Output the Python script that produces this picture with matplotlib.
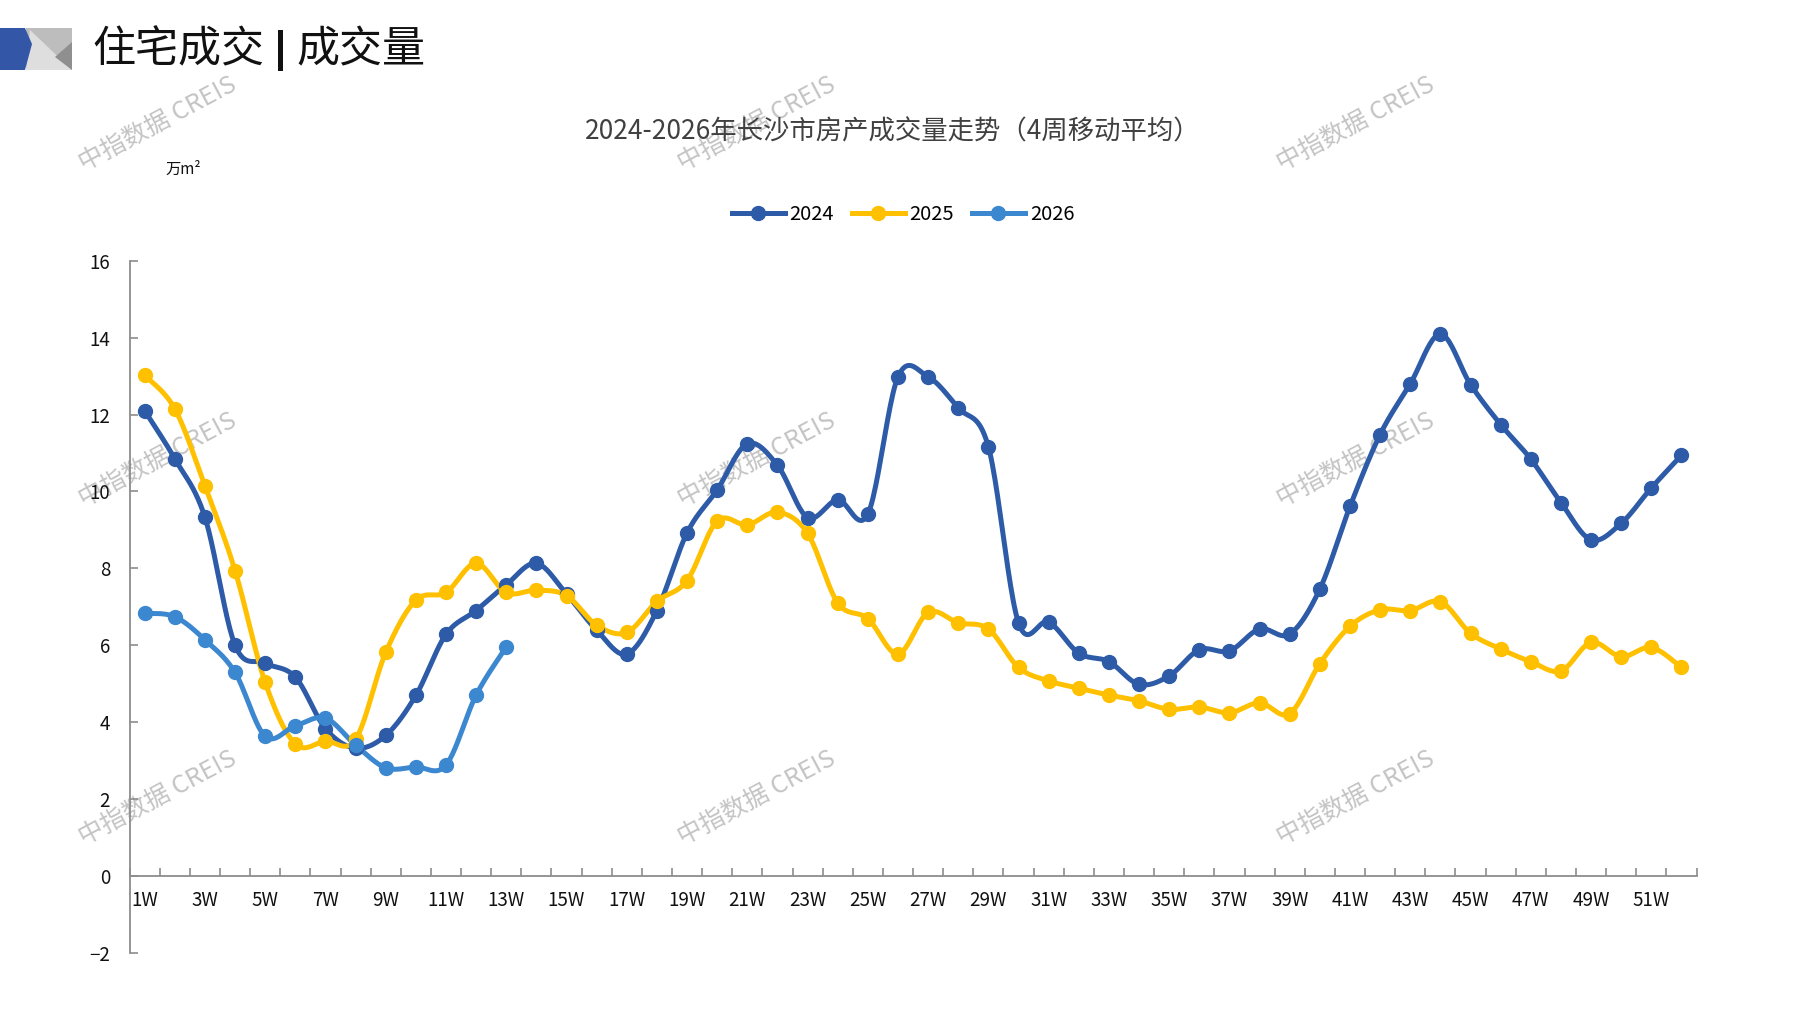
import numpy as np
import matplotlib
matplotlib.use("Agg")
import matplotlib.pyplot as plt
from matplotlib.patches import Polygon, Rectangle
from matplotlib.lines import Line2D

plt.rcParams['font.family'] = ['Noto Sans CJK SC', 'DejaVu Sans']

weeks_2024 = list(range(1, 53))
vals_2024 = [12.1, 10.85, 9.33, 6.0, 5.53, 5.17, 3.83, 3.32, 3.65, 4.69,
             6.28, 6.9, 7.57, 8.13, 7.33, 6.39, 5.77, 6.9, 8.92, 10.04,
             11.24, 10.68, 9.32, 9.78, 9.41, 12.98, 12.98, 12.17, 11.16, 6.58,
             6.6, 5.79, 5.57, 4.98, 5.2, 5.88, 5.85, 6.42, 6.29, 7.46,
             9.61, 11.48, 12.8, 14.09, 12.78, 11.74, 10.84, 9.71, 8.74, 9.17,
             10.09, 10.94]

weeks_2025 = list(range(1, 53))
vals_2025 = [13.02, 12.15, 10.15, 7.94, 5.03, 3.43, 3.5, 3.55, 5.81, 7.17,
             7.37, 8.13, 7.37, 7.43, 7.29, 6.52, 6.33, 7.14, 7.68, 9.23,
             9.13, 9.46, 8.91, 7.1, 6.69, 5.77, 6.85, 6.58, 6.42, 5.42,
             5.07, 4.88, 4.7, 4.55, 4.33, 4.39, 4.24, 4.5, 4.22, 5.52,
             6.49, 6.92, 6.9, 7.13, 6.31, 5.9, 5.57, 5.33, 6.07, 5.7,
             5.94, 5.42]

weeks_2026 = list(range(1, 14))
vals_2026 = [6.83, 6.74, 6.14, 5.29, 3.63, 3.9, 4.1, 3.4, 2.81, 2.83,
             2.88, 4.7, 5.95]

series = [("2024", weeks_2024, vals_2024, "#2D5BA8"),
          ("2025", weeks_2025, vals_2025, "#FFC000"),
          ("2026", weeks_2026, vals_2026, "#3C88D0")]

week_labels = [f"{w}W" if w % 2 == 1 else "" for w in range(1, 53)]


def smooth(x, y, n=24):
    # Catmull-Rom curve through the points (like Excel's smoothed line)
    x = np.asarray(x, float)
    y = np.asarray(y, float)
    px = np.concatenate([[x[0]], x, [x[-1]]])
    py = np.concatenate([[y[0]], y, [y[-1]]])
    xs, ys = [], []
    t = np.linspace(0, 1, n)
    for i in range(1, len(px) - 2):
        for p, out in ((px, xs), (py, ys)):
            p0, p1, p2, p3 = p[i - 1], p[i], p[i + 1], p[i + 2]
            out.extend(0.5 * ((2 * p1) + (-p0 + p2) * t
                              + (2 * p0 - 5 * p1 + 4 * p2 - p3) * t ** 2
                              + (-p0 + 3 * p1 - 3 * p2 + p3) * t ** 3))
    return np.array(xs), np.array(ys)


W, H = 1797, 1010
fig = plt.figure(figsize=(W / 100, H / 100), dpi=100)

# background layer in pixel coords: header, watermarks
bg = fig.add_axes([0, 0, 1, 1])
bg.set_xlim(0, W)
bg.set_ylim(H, 0)
bg.axis("off")

bg.add_patch(Polygon([(26, 28), (72, 28), (72, 70), (26, 70)], closed=True, color="#bdbdbd", lw=0))
bg.add_patch(Polygon([(30, 30), (72, 70), (26, 70)], closed=True, color="#dedede", lw=0))
bg.add_patch(Polygon([(72, 42), (55, 57), (72, 70)], closed=True, color="#8f8f8f", lw=0))
bg.add_patch(Polygon([(0, 28), (25, 28), (32, 44), (25, 70), (0, 70)], closed=True, color="#3456A6", lw=0))
bg.text(92, 50, "住宅成交", fontsize=31, color="#111111", va="center", ha="left")
bg.add_patch(Rectangle((278, 30), 5, 41, color="#111111", lw=0))
bg.text(296, 50, "成交量", fontsize=31, color="#111111", va="center", ha="left")

for cx in (158, 757, 1356):
    for cy in (124, 460, 798):
        bg.text(cx, cy, "中指数据 CREIS", fontsize=18, color="#c4c4c4",
                rotation=28, ha="center", va="center", rotation_mode="anchor")

ax = fig.add_axes([0.0721, 0.0568, 0.872, 0.685])
ax.set_facecolor("none")

for name, wk, vals, col in series:
    sx, sy = smooth(wk, vals)
    ax.plot(sx, sy, color=col, lw=3.6, solid_capstyle="round", zorder=3)
    ax.plot(wk, vals, "o", color=col, markersize=10, zorder=4)

ax.set_xlim(0.5, 52.5)
ax.set_ylim(-2, 16)
ax.set_yticks(np.arange(-2, 17, 2))
ax.set_xticks(range(1, 53))
ax.set_xticklabels(week_labels)
ax.set_xticks(np.arange(0.5, 53, 1), minor=True)

for s in ("top", "right"):
    ax.spines[s].set_visible(False)
ax.spines["left"].set_color("#8c8c8c")
ax.spines["left"].set_linewidth(1.3)
ax.spines["bottom"].set_position(("data", 0))
ax.spines["bottom"].set_color("#8c8c8c")
ax.spines["bottom"].set_linewidth(1.3)

ax.tick_params(axis="x", which="major", length=0, pad=10, labelsize=13.5, colors="#111111")
ax.tick_params(axis="x", which="minor", length=6, direction="in", color="#8c8c8c", width=1.2)
ax.tick_params(axis="y", length=6, direction="in", color="#8c8c8c", width=1.2,
               labelsize=13.5, labelcolor="#111111", pad=14)

fig.text(0.497, 0.869, "2024-2026年长沙市房产成交量走势（4周移动平均）",
         fontsize=19, color="#404040", ha="center", va="center")
fig.text(0.102, 0.832, "万m²", fontsize=11, color="#111111", ha="center", va="center")

handles = [Line2D([0], [0], color=c, lw=3.6, marker="o", markersize=10) for _, _, _, c in series]
fig.legend(handles, [s[0] for s in series], loc="center", bbox_to_anchor=(0.5026, 0.788),
           ncol=3, frameon=False, fontsize=14.5, handlelength=2.6,
           handletextpad=0.25, columnspacing=0.9)

fig.savefig("out.png", dpi=100)
